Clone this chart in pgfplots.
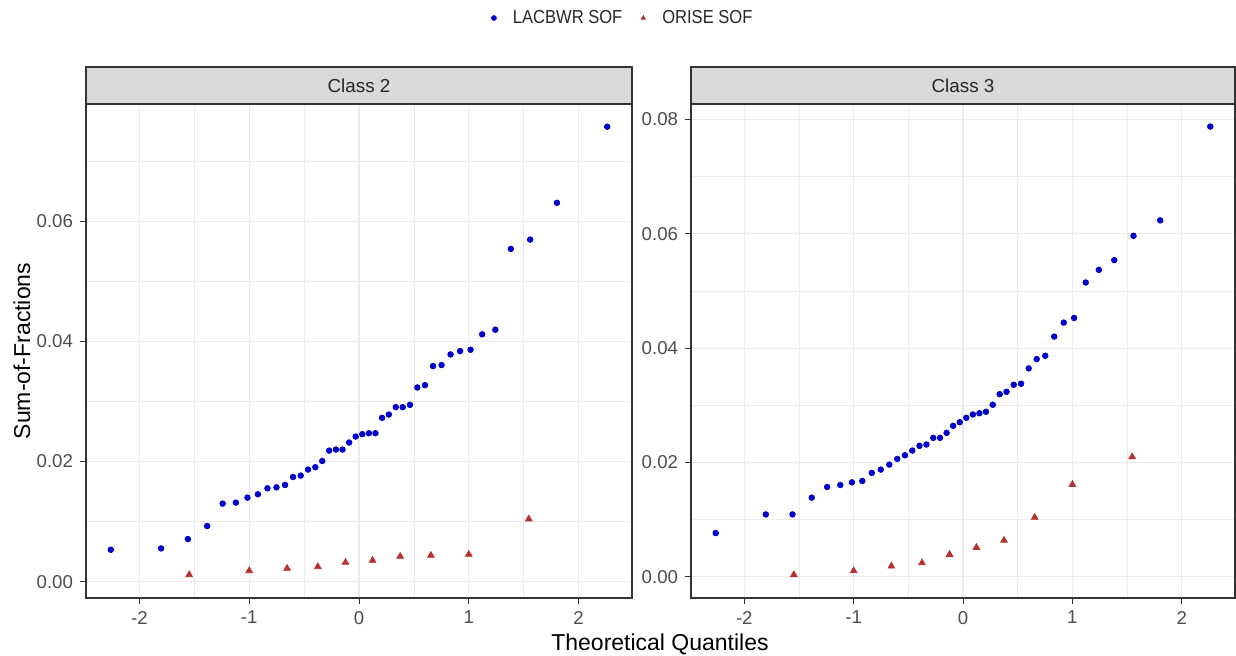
\documentclass[border=0pt]{standalone}
\usepackage{fontspec}
\setmainfont{Liberation Sans}
\newfontfamily\legendfont[FakeStretch=0.88]{Liberation Sans}
\usepackage{pgfplots}
\usepackage{pgfplotstable}
\pgfplotsset{compat=1.18}

\definecolor{ptblue}{HTML}{0000CD}
\definecolor{ptred}{HTML}{B8312F}
\definecolor{gridc}{HTML}{EBEBEB}
\definecolor{framec}{HTML}{333333}
\definecolor{stripc}{HTML}{D9D9D9}
\definecolor{tickc}{HTML}{4D4D4D}

% theoretical quantile, sum-of-fractions
\pgfplotstableread{
q v
-2.261 0.00533
-1.803 0.00555
-1.559 0.00711
-1.383 0.00928
-1.242 0.01300
-1.122 0.01317
-1.016 0.01400
-0.921 0.01456
-0.834 0.01556
-0.752 0.01572
-0.674 0.01611
-0.601 0.01744
-0.531 0.01767
-0.464 0.01867
-0.398 0.01906
-0.335 0.02010
-0.272 0.02183
-0.210 0.02200
-0.150 0.02200
-0.090 0.02317
-0.030 0.02417
0.030 0.02456
0.090 0.02472
0.150 0.02472
0.210 0.02728
0.272 0.02783
0.335 0.02906
0.398 0.02906
0.464 0.02944
0.531 0.03233
0.601 0.03272
0.674 0.03589
0.752 0.03606
0.834 0.03783
0.921 0.03839
1.016 0.03861
1.122 0.04117
1.242 0.04194
1.383 0.05539
1.559 0.05694
1.803 0.06306
2.261 0.07572
}\lacA

\pgfplotstableread{
q v
-1.547 0.00117
-1.000 0.00183
-0.655 0.00222
-0.375 0.00250
-0.123 0.00322
0.123 0.00356
0.375 0.00422
0.655 0.00439
1.000 0.00456
1.547 0.01044
}\oriA

\pgfplotstableread{
q v
-2.261 0.00766
-1.803 0.01092
-1.559 0.01092
-1.383 0.01385
-1.242 0.01572
-1.122 0.01607
-1.016 0.01653
-0.921 0.01677
-0.834 0.01818
-0.752 0.01876
-0.674 0.01963
-0.601 0.02063
-0.531 0.02126
-0.464 0.02209
-0.398 0.02291
-0.335 0.02314
-0.272 0.02431
-0.210 0.02431
-0.150 0.02519
-0.090 0.02641
-0.030 0.02705
0.030 0.02782
0.090 0.02840
0.150 0.02862
0.210 0.02887
0.272 0.03010
0.335 0.03195
0.398 0.03237
0.464 0.03360
0.531 0.03378
0.601 0.03646
0.674 0.03809
0.752 0.03868
0.834 0.04202
0.921 0.04447
1.016 0.04528
1.122 0.05148
1.242 0.05369
1.383 0.05539
1.559 0.05965
1.803 0.06235
2.261 0.07876
}\lacB

\pgfplotstableread{
q v
-1.547 0.00035
-1.000 0.00105
-0.655 0.00187
-0.375 0.00245
-0.123 0.00391
0.123 0.00514
0.375 0.00637
0.655 0.01040
1.000 0.01613
1.547 0.02098
}\oriB

\pgfplotsset{
  facet/.style={
    scale only axis,
    height=247pt,
    xmin=-2.487, xmax=2.487,
    xtick={-2,-1,0,1,2},
    minor xtick={-1.5,-0.5,0.5,1.5},
    grid=both,
    major grid style={gridc, line width=0.6pt},
    minor grid style={gridc, line width=0.35pt},
    axis line style={framec, line width=0.55pt},
    tick align=outside,
    xtick pos=left, ytick pos=left,
    tick style={framec, line width=0.5pt},
    major tick length=3pt, minor tick length=0pt,
    ticklabel style={font=\fontsize{9.3}{11}\selectfont, text=tickc},
    /pgf/number format/assume math mode=true,
    yticklabel style={/pgf/number format/.cd, fixed, fixed zerofill, precision=2},
    scaled y ticks=false,
    lac/.style={only marks, mark=*, mark size=1.4pt, ptblue, mark options={draw=ptblue, fill=ptblue}},
    ori/.style={only marks, mark=triangle*, mark size=1.9pt, ptred, mark options={draw=ptred, fill=ptred}},
  }
}

\begin{document}
\begin{tikzpicture}
\path[use as bounding box] (0pt,0pt) rectangle (618pt,327.5pt);

\begin{axis}[facet, name=left, at={(43pt,28.5pt)}, anchor=south west,
  width=273pt,
  ymin=-0.0027, ymax=0.0795,
  ytick={0,0.02,0.04,0.06},
  minor ytick={0.01,0.03,0.05,0.07},
  legend columns=2,
  legend image code/.code={%
    \path[draw=none, fill=none] (-3pt,0pt) -- (7.5pt,0pt);
    \draw[#1, mark size=1.2pt] plot[only marks] coordinates {(0pt,0pt)};},
  legend style={at={(0.982,1.174)}, anchor=center, draw=none, fill=none,
    font=\legendfont\fontsize{9.4}{12}\selectfont, text=black!85,
    /tikz/every even column/.append style={column sep=5.5pt}},
]
\addplot[lac] table[x=q, y=v] {\lacA};
\addlegendentry{LACBWR SOF}
\addplot[ori] table[x=q, y=v] {\oriA};
\addlegendentry{ORISE SOF}
\end{axis}

\begin{axis}[facet, name=right, at={(345.5pt,28.5pt)}, anchor=south west,
  width=272pt,
  ymin=-0.0037, ymax=0.0827,
  ytick={0,0.02,0.04,0.06,0.08},
  minor ytick={0.01,0.03,0.05,0.07},
]
\addplot[lac] table[x=q, y=v] {\lacB};
\addplot[ori] table[x=q, y=v] {\oriB};
\end{axis}

% facet strips
\foreach \ax/\lab in {left/Class 2, right/Class 3}{
  \draw[framec, fill=stripc, line width=0.55pt] (\ax.north west) rectangle ([yshift=18.5pt]\ax.north east);
  \node[font=\fontsize{9.4}{12}\selectfont, text=black!85] at ([yshift=9.25pt]\ax.north) {\lab};
}

\node[font=\fontsize{11.5}{14}\selectfont] at (330pt,5.5pt) {Theoretical Quantiles};
\node[font=\fontsize{11.5}{14}\selectfont, rotate=90] at (11pt,152pt) {Sum-of-Fractions};
\end{tikzpicture}
\end{document}
